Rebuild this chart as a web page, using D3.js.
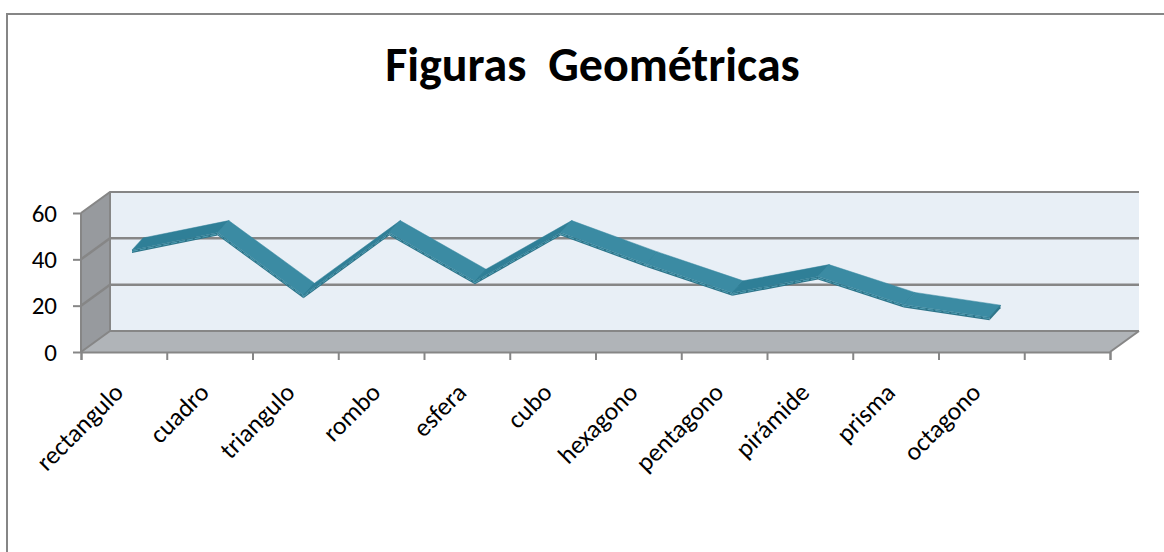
<!DOCTYPE html>
<html><head><meta charset="utf-8">
<script src="https://cdnjs.cloudflare.com/ajax/libs/d3/7.8.5/d3.min.js"></script>
<style>html,body{margin:0;padding:0;background:#fff}svg{display:block}text{font-family:Carlito,Lato,"Open Sans",sans-serif;fill:#000}</style>
</head><body><svg id="c" width="1164" height="552"></svg>
<script>
const title = "Figuras  Geométricas";
const categories = ["rectangulo","cuadro","triangulo","rombo","esfera","cubo","hexagono","pentagono","pirámide","prisma","octagono"];
const values = [41.5,49,22,49,28,49,35.5,23,30,18,12.5];
const yTicks = [0,20,40,60];
const slots = d3.range(12);

const svg = d3.select("#c");
const fx0=81, fx1=1110, fy0=352, fy1=213, dx=29, dy=-21;
const xBand = d3.scaleBand().domain(slots).range([fx0,fx1]);
const y = d3.scaleLinear().domain([0,60]).range([fy0,fy1]);
const P = (px,py,t)=>[px+dx*t, py+dy*t];
const poly = pts => "M"+pts.map(p=>p.join(",")).join("L")+"Z";

svg.append("rect").attr("x",7).attr("y",14).attr("width",1170).attr("height",560)
  .attr("fill","#fff").attr("stroke","#868686").attr("stroke-width",2);

svg.append("text").attr("x",592.5).attr("y",81).attr("text-anchor","middle")
  .attr("font-size",48).attr("font-weight",700).style("white-space","pre").text(title);

// walls
svg.append("path").attr("d",poly([P(fx0,fy1,1),P(fx1,fy1,1),P(fx1,fy0,1),P(fx0,fy0,1)])).attr("fill","#e8eff6");
svg.append("path").attr("d",poly([[fx0,fy0],P(fx0,fy0,1),P(fx0,fy1,1),[fx0,fy1]])).attr("fill","#979a9e");
svg.append("path").attr("d",poly([[fx0,fy0],P(fx0,fy0,1),P(fx1,fy0,1),[fx1,fy0]])).attr("fill","#b0b4b8");

const gridC="#868686";
const wire = (d,w)=>svg.append("path").attr("d",d).attr("fill","none").attr("stroke",gridC).attr("stroke-width",w);
yTicks.forEach(v=>{
  const a=[fx0,y(v)], b=P(fx0,y(v),1), c=P(fx1,y(v),1);
  wire("M"+a+"L"+b+"L"+c, v===0||v===60?2:2.5);
});
wire("M"+P(fx0,fy0,1)+"L"+P(fx0,fy1,1),2);
wire("M"+[fx0,fy0]+"L"+[fx0,fy1],2);
wire("M"+P(fx1,fy0,1)+"L"+[fx1,fy0],2);

// axes
const yAxis = d3.axisLeft(y).tickValues(yTicks).tickSize(8).tickPadding(16);
const yg = svg.append("g").attr("transform",`translate(${fx0},0)`).call(yAxis);
yg.select(".domain").remove();
yg.selectAll("line").attr("stroke",gridC).attr("stroke-width",2);
yg.selectAll("text").attr("font-size",25).style("font-family","Carlito,Lato,'Open Sans',sans-serif");

const xEdge = d3.scaleLinear().domain([0,12]).range([fx0,fx1]);
const xAxis = d3.axisBottom(xEdge).tickValues(d3.range(13)).tickSize(8).tickFormat("");
const xg = svg.append("g").attr("transform",`translate(0,${fy0})`).call(xAxis);
xg.select(".domain").attr("stroke",gridC).attr("stroke-width",2);
xg.selectAll("line").attr("stroke",gridC).attr("stroke-width",2);

svg.append("g").selectAll("text").data(categories).join("text")
  .attr("transform",(d,i)=>`translate(${xBand(i)+xBand.bandwidth()/2+1},${fy0+42}) rotate(-45)`)
  .attr("text-anchor","end").attr("font-size",25.5).text(d=>d);

// ribbon: front edge sits at depth t0, back edge offset by (ox, oy)
const t0=0.28, ox=11, oy=-12, thick=3;
const cx=i=>xBand(i)+xBand.bandwidth()/2;
const F=(d)=>P(cx(d.i),y(d.v),t0);
const B=(d)=>{const f=F(d);return [f[0]+ox,f[1]+oy];};
const ribbon = svg.append("g");
const pts = values.map((v,i)=>({i,v}));
d3.pairs(pts).forEach(([a,b])=>{
  const af=F(a), bf=F(b), ab=B(a), bb=B(b);
  const falling=b.v<a.v;
  const c=falling?"#3b8ba3":"#2f7f97";
  ribbon.append("path").attr("d",poly([af,bf,[bf[0],bf[1]+thick],[af[0],af[1]+thick]])).attr("fill","#2d7489");
  ribbon.append("path").attr("d",poly([af,bf,bb,ab])).attr("fill",c).attr("stroke",c).attr("stroke-width",.5);
  ribbon.append("path").attr("d",`M${af[0]},${af[1]+1.4}L${bf[0]},${bf[1]+1.4}`).attr("stroke","#5aa9bf").attr("stroke-width",.8).attr("stroke-dasharray","6 2").attr("fill","none");
  ribbon.append("path").attr("d",`M${bf}L${bb}`).attr("stroke","#2f7f97").attr("stroke-width",1);
});
const ef=F(pts[pts.length-1]), eb=B(pts[pts.length-1]);
ribbon.append("path").attr("d",poly([ef,eb,[eb[0],eb[1]+thick],[ef[0],ef[1]+thick]])).attr("fill","#2d7489");
</script></body></html>
